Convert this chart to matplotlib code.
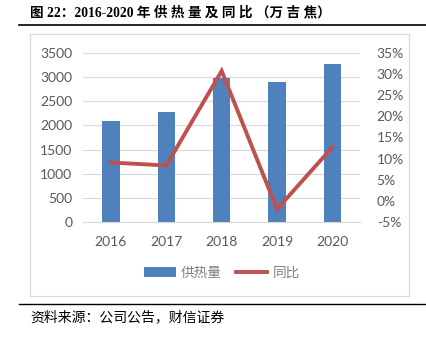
import matplotlib
matplotlib.use("Agg")
import matplotlib.pyplot as plt
from matplotlib.patches import Rectangle
from matplotlib.lines import Line2D
from matplotlib.ticker import FuncFormatter

years = ["2016", "2017", "2018", "2019", "2020"]
supply = [2100, 2275, 2970, 2895, 3270]
yoy = [9.1, 8.4, 30.7, -1.9, 12.7]
title = "图 22：2016-2020 年 供 热 量 及 同 比 （万 吉 焦）"
source = "资料来源：公司公告，财信证券"
bar_label = "供热量"
line_label = "同比"

W, H = 427, 337
fig = plt.figure(figsize=(W / 100, H / 100), dpi=100)
fig.patch.set_facecolor("white")

def fx(px):
    return px / W

def fy(py):
    return 1 - py / H

# chart frame
fig.patches.append(Rectangle((fx(30.5), fy(295.5)), fx(409) - fx(30.5), fy(33.5) - fy(295.5),
                             transform=fig.transFigure, fill=False, edgecolor="#D9D9D9", linewidth=0.9))
# title and rules
fig.text(fx(30), fy(13), title, fontsize=9.8, fontweight="bold",
         family=["Liberation Serif", "Noto Sans CJK SC"], va="center", ha="left")
fig.add_artist(Line2D([fx(19), fx(427)], [fy(25), fy(25)], transform=fig.transFigure, color="black", lw=1.2))
fig.add_artist(Line2D([fx(19), fx(427)], [fy(303.5), fy(303.5)], transform=fig.transFigure, color="black", lw=1.0))
fig.text(fx(30), fy(317), source, fontsize=10, style="italic",
         family=["Noto Sans CJK SC"], va="center", ha="left")

ax = fig.add_axes([fx(83.3), fy(222.3), fx(360) - fx(83.3), fy(52.7) - fy(222.3)])
x = list(range(len(years)))
bars = ax.bar(x, supply, width=0.31, color="#4F81BD", zorder=2, label=bar_label)
ax.set_ylim(0, 3500)
ax.set_yticks(range(0, 3501, 500))
ax.set_xlim(-0.5, 4.5)
ax.set_xticks(x)
ax.set_xticklabels(years)
ax.grid(axis="y", color="#D9D9D9", lw=0.8, zorder=0)
for s in ax.spines.values():
    s.set_visible(False)
ax.spines["bottom"].set_visible(True)
ax.spines["bottom"].set_color("#D9D9D9")
ax.tick_params(length=0, labelsize=10, colors="#595959", pad=8)
ax.tick_params(axis="x", pad=10)

ax2 = ax.twinx()
line, = ax2.plot(x, yoy, color="#C0504D", lw=2.8, zorder=3, label=line_label,
                 solid_joinstyle="miter")
ax2.set_ylim(-5, 35)
ax2.set_yticks(range(-5, 36, 5))
ax2.yaxis.set_major_formatter(FuncFormatter(lambda v, p: f"{int(v)}%"))
for s in ax2.spines.values():
    s.set_visible(False)
ax2.tick_params(length=0, labelsize=10, colors="#595959", pad=12)

for a in (ax, ax2):
    for lab in a.get_xticklabels() + a.get_yticklabels():
        lab.set_family(["Lato", "DejaVu Sans"])

leg = fig.legend(handles=[bars, line], labels=[bar_label, line_label], loc="center",
                 bbox_to_anchor=(fx(222), fy(273)), ncol=2, frameon=False,
                 prop={"family": ["Noto Sans CJK SC"], "size": 9.8},
                 handlelength=2.3, handletextpad=0.4, columnspacing=1.0)
for t in leg.get_texts():
    t.set_color("#7F7F7F")

fig.savefig("out.png", dpi=100)
